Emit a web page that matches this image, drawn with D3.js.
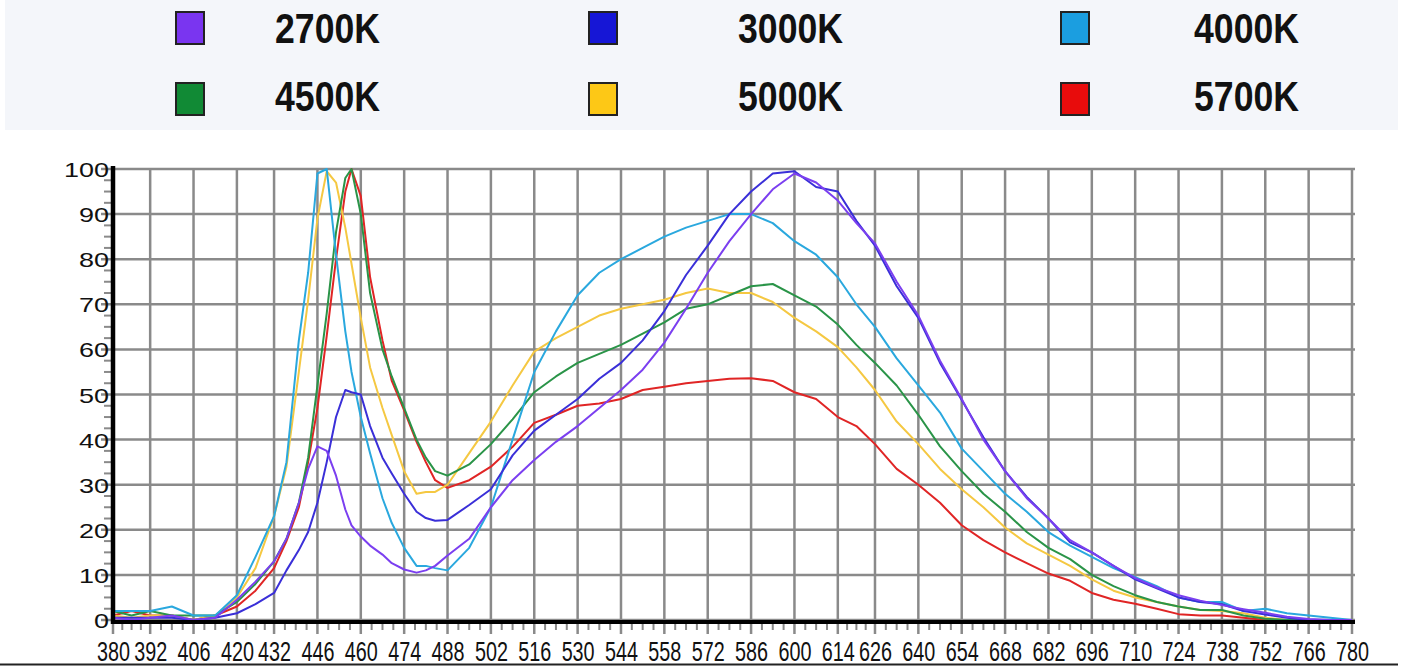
<!DOCTYPE html>
<html>
<head>
<meta charset="utf-8">
<script src="https://cdn.jsdelivr.net/npm/d3@7"></script>
<style>
  body { margin: 0; background: #fff; }
  svg { display: block; font-family: "Liberation Sans", Arial, sans-serif; }
</style>
</head>
<body>
<div id="wrapper"></div>
<script>
// Series names and colours (legend order)
const seriesNames = ["2700K", "3000K", "4000K", "4500K", "5000K", "5700K"];
const swatchColors = ["#7a35f0", "#1616d6", "#1b9ee0", "#118a35", "#fdc816", "#e80c0c"];
const lineColors = ["#7b3ff0", "#3a2fd8", "#2aa8de", "#2a9448", "#f5c842", "#e02525"];

// x axis tick labels (nm) and y ticks
const xTickLabels = [380,392,406,420,432,446,460,474,488,502,516,530,544,558,572,586,600,614,626,640,654,668,682,696,710,724,738,752,766,780];
const yTickLabels = [0,10,20,30,40,50,60,70,80,90,100];

// wavelengths the curves were read at
const wavelengths = [380,386,392,399,406,413,420,426,432,436,440,443,446,449,452,455,457,460,463,467,470,474,478,481,484,488,
  495,502,509,516,523,530,537,544,551,558,565,572,579,586,593,600,607,614,
  620,626,633,640,647,654,661,668,675,682,689,696,703,710,717,724,731,738,745,752,759,766,773,780];

// relative intensity (%) per series
const k2700 = [0.5,0,0.5,1,0,0.5,4.5,8.5,13,18,26,33.5,38.5,37.5,32,24.5,21,18.5,16.5,14.5,12.6,11.2,10.5,11,12,14.3,
  18,25,31,35.5,39.5,43,47,51,55.5,61.5,69,77,84,90,95.5,99,97,93,
  88,83.5,75,67.5,57.5,49,40,33,27,22.5,17.7,15,12,9.3,7.2,5.5,4.3,3.3,2.4,1.6,0.7,0.2,0,0];
const k3000 = [0.5,0.5,0.5,0.5,0,0.5,1.5,3.5,6,11,15.5,19.5,26,35,45,51,50.5,50,43,36,32.5,28,24,22.6,22,22.2,
  25.5,29,36.5,42,45.5,49,53.5,57,62,68.5,76.5,83,90,95,99,99.5,96,95,
  88.5,83,74,67,57,48.8,40.5,33,27.3,22.5,17.2,15,12,9,7,5,4,3.5,2,1.2,0.5,0,0,0];
const k4000 = [2,2,2,3,1,1,5.5,14,23,35,62,77,99,100,81,64,55,45,37,27,21.5,16,12,12,11.5,11,
  16,25,40,55,64,72,77,80,82.5,85,87,88.5,90,90,88,84,81,76,
  70,65,58,52,46,38,33,28,24,19.5,16.5,14,11.5,9.5,7.5,5,4,4,2,2.5,1.5,1,0.5,0];
const k4500 = [2,1,2,1,1,1,4,8,13,18,26,36,52,68,86,98,100,90,72.5,60,54,47,40,36,33,32,
  34.5,39,44.5,50.5,54,57,59,61,63.5,66,69,70,72,74,74.5,72,69.5,65.5,
  61,57,52,45.5,38.5,33,28,24,19.5,16,13.5,10,7.5,5.5,4,3,2.2,2.2,1,0.3,0,0,0,0];
const k5000 = [1,0.5,1,1,0,1,5,11.5,23,34,55,71,89,99.5,97,87,79,67,56,47,41,33,28,28.4,28.4,30,
  37,44,52,59.5,62.5,65,67.5,69,70,71,72.5,73.5,72.5,72.5,70.5,67,64,60.5,
  56,51,44,39,33.5,29,25,20.5,17,14.5,12,9,6.5,5,4,3,2.2,2,1.5,0.5,0,0,0,0];
const k5700 = [1,2,1,1,0,1,3,6.5,11.5,17.5,25,35,47,63,80,95,100,94,76,62,53,46.5,39.5,35,31,29.3,
  31,34,38.4,43.7,45.5,47.5,48,49,51,51.7,52.5,53,53.5,53.6,53,50.5,49,45,
  43,39,33.5,30,26,21,17.7,15,12.6,10.3,8.7,6,4.5,3.6,2.5,1.3,1,1,0.5,0,0,0,0,0];

const seriesValues = [k2700, k3000, k4000, k4500, k5000, k5700];

const W = 1405, H = 666;
const svg = d3.select("#wrapper").append("svg").attr("width", W).attr("height", H);

// ---- legend panel
svg.append("rect").attr("x", 5).attr("y", 0).attr("width", 1393).attr("height", 130).attr("fill", "#f4f6fa");

const swatchX = [176, 589, 1061];
const textX = [275, 738, 1194];
const rowY = [12, 83];

const legend = svg.append("g").attr("class", "legend");
seriesNames.forEach((name, i) => {
  const col = i % 3, row = Math.floor(i / 3);
  legend.append("rect")
    .attr("x", swatchX[col]).attr("y", rowY[row])
    .attr("width", 28).attr("height", 32)
    .attr("fill", swatchColors[i])
    .attr("stroke", "#222").attr("stroke-width", 2);
  legend.append("text")
    .attr("x", textX[col]).attr("y", rowY[row] + (row ? 28 : 31))
    .attr("font-size", 43).attr("font-weight", "bold").attr("fill", "#111")
    .attr("textLength", 105).attr("lengthAdjust", "spacingAndGlyphs")
    .text(name);
});

// ---- scales
const x = d3.scaleLinear().domain([380, 780]).range([113, 1352]);
const y = d3.scaleLinear().domain([0, 100]).range([620, 169]);

const grid = svg.append("g").attr("stroke", "#8a8a8a").attr("stroke-width", 2.5);

// vertical grid (runs down past the axis as the major tick)
grid.selectAll("line.vx").data(xTickLabels).enter().append("line")
  .attr("x1", d => x(d)).attr("x2", d => x(d))
  .attr("y1", y(100)).attr("y2", 634);

// horizontal grid (runs left past the axis as the major tick)
grid.selectAll("line.hy").data(yTickLabels).enter().append("line")
  .attr("x1", 101).attr("x2", x(780) + 3)
  .attr("y1", d => y(d)).attr("y2", d => y(d));

// minor ticks: 3 between each pair of major ticks
const minorX = [];
for (let i = 0; i < xTickLabels.length - 1; i++) {
  for (let k = 1; k < 4; k++) minorX.push(xTickLabels[i] + (xTickLabels[i + 1] - xTickLabels[i]) * k / 4);
}
const minorY = [];
for (let i = 0; i < yTickLabels.length - 1; i++) {
  for (let k = 1; k < 4; k++) minorY.push(yTickLabels[i] + 2.5 * k);
}
const minor = svg.append("g").attr("stroke", "#8a8a8a").attr("stroke-width", 2);
minor.selectAll("line.mx").data(minorX).enter().append("line")
  .attr("x1", d => x(d)).attr("x2", d => x(d)).attr("y1", 622).attr("y2", 630);
minor.selectAll("line.my").data(minorY).enter().append("line")
  .attr("x1", 104).attr("x2", 112).attr("y1", d => y(d)).attr("y2", d => y(d));

// ---- curves
const line = d3.line()
  .x((d, i) => x(wavelengths[i]))
  .y(d => y(d));

const drawOrder = [5, 4, 3, 2, 1, 0];
svg.append("g").selectAll("path").data(drawOrder).enter().append("path")
  .attr("d", i => line(seriesValues[i]))
  .attr("fill", "none")
  .attr("stroke", i => lineColors[i])
  .attr("stroke-width", 2)
  .attr("stroke-linejoin", "round");

// ---- axis lines
svg.append("line").attr("x1", 113).attr("x2", 113).attr("y1", 166).attr("y2", 624)
  .attr("stroke", "#000").attr("stroke-width", 4.5);
svg.append("line").attr("x1", 111).attr("x2", 1355).attr("y1", 622).attr("y2", 622)
  .attr("stroke", "#000").attr("stroke-width", 4);

// ---- tick labels via d3 axes
const xAxis = svg.append("g").attr("transform", "translate(0,636)")
  .call(d3.axisBottom(x).tickValues(xTickLabels).tickSize(0).tickFormat(d3.format("d")));
xAxis.select(".domain").remove();
xAxis.selectAll("text")
  .attr("y", 0).attr("dy", "25px")
  .attr("font-size", 27).attr("fill", "#111")
  .attr("font-family", "Liberation Sans, Arial, sans-serif")
  .attr("textLength", d => String(d).length * 11)
  .attr("lengthAdjust", "spacingAndGlyphs");

const yAxis = svg.append("g").attr("transform", "translate(109,0)")
  .call(d3.axisLeft(y).tickValues(yTickLabels).tickSize(0).tickFormat(d3.format("d")));
yAxis.select(".domain").remove();
yAxis.selectAll("text")
  .attr("x", 0).attr("dy", "0.36em")
  .attr("font-size", 21).attr("fill", "#111")
  .attr("font-family", "Liberation Sans, Arial, sans-serif")
  .attr("textLength", d => String(d).length * 15)
  .attr("lengthAdjust", "spacingAndGlyphs");

// bottom frame line
svg.append("line").attr("x1", 0).attr("x2", 1398).attr("y1", 664.5).attr("y2", 664.5)
  .attr("stroke", "#222").attr("stroke-width", 2);
</script>
</body>
</html>
